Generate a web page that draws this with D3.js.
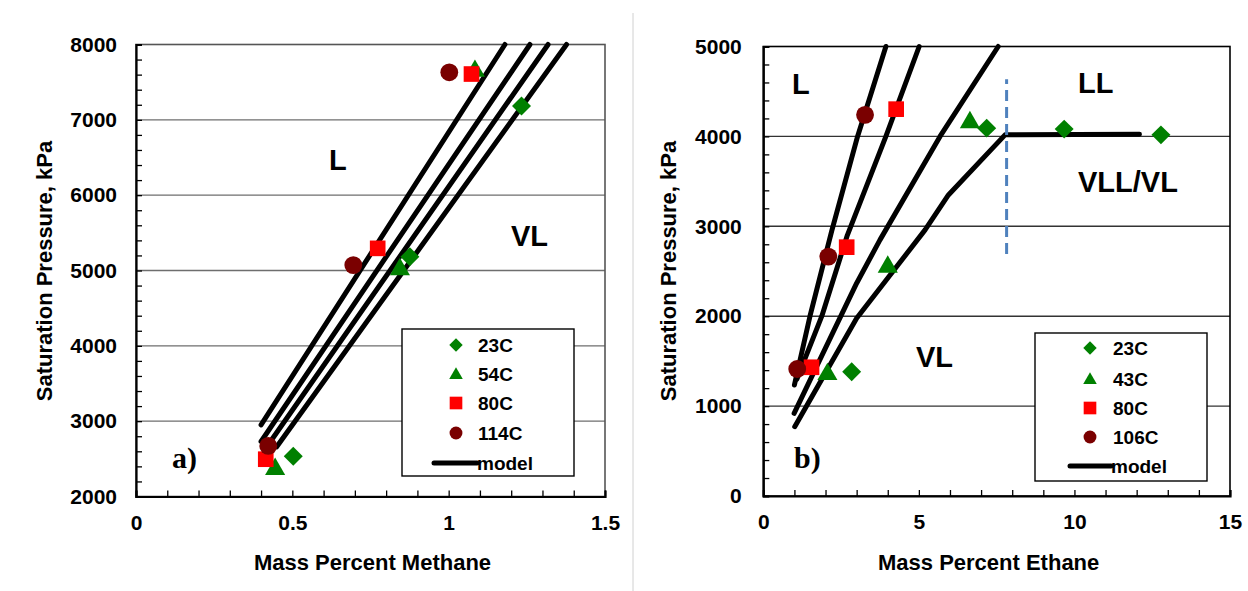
<!DOCTYPE html>
<html><head><meta charset="utf-8">
<script src="https://cdn.jsdelivr.net/npm/d3@7"></script>
<style>
body{margin:0;background:#fff;}
svg{display:block;font-family:"Liberation Sans",Arial,sans-serif;}
</style></head>
<body><svg id="chart" width="1248" height="591"></svg>
<script>
// ---------- Panel a) : methane ----------
const aXTicks = [0, 0.5, 1, 1.5];
const aYTicks = [2000, 3000, 4000, 5000, 6000, 7000, 8000];
const aSeriesNames = ["23C", "54C", "80C", "114C"];
const a23C = [[0.503, 2535], [0.876, 5182], [1.233, 7183]];
const a54C = [[0.445, 2376], [0.844, 5028], [1.084, 7661]];
const a80C = [[0.415, 2495], [0.773, 5294], [1.073, 7608]];
const a114C = [[0.423, 2672], [0.695, 5072], [1.002, 7631]];
const aModel114 = [[0.40, 2950], [1.18, 8000]];
const aModel80 = [[0.40, 2730], [1.26, 8000]];
const aModel54 = [[0.42, 2670], [1.318, 8000]];
const aModel23 = [[0.45, 2660], [1.377, 8000]];

// ---------- Panel b) : ethane ----------
const bXTicks = [0, 5, 10, 15];
const bYTicks = [0, 1000, 2000, 3000, 4000, 5000];
const bSeriesNames = ["23C", "43C", "80C", "106C"];
const b23C = [[2.84, 1383], [7.18, 4092], [9.67, 4081], [12.78, 4017]];
const b43C = [[2.06, 1365], [4.0, 2560], [6.64, 4166]];
const b80C = [[1.55, 1432], [2.68, 2768], [4.27, 4303]];
const b106C = [[1.09, 1413], [2.09, 2663], [3.27, 4240]];
const bModel106 = [[1.0, 1235], [1.5, 2000], [2.2, 2950], [3.03, 4000], [3.94, 5000]];
const bModel80 = [[1.08, 1300], [1.88, 2000], [2.7, 2900], [3.94, 4000], [5.01, 5000]];
const bModel43 = [[0.99, 920], [3.0, 2367], [3.75, 2849], [5.68, 4000], [7.55, 5000]];
const bModel23 = [[1.01, 771], [3.0, 1977], [5.2, 2960], [5.95, 3349], [7.77, 4017], [12.09, 4025]];
const bBoundary = [[7.82, 2693], [7.82, 4637]];

const colors = {"23C": "#008000", "54C": "#008000", "43C": "#008000", "80C": "#ff0000", "114C": "#7a0000", "106C": "#7a0000"};
const shapes = {"23C": "diamond", "54C": "triangle", "43C": "triangle", "80C": "square", "114C": "circle", "106C": "circle"};

const svg = d3.select("#chart");

// divider
svg.append("line").attr("x1", 633).attr("x2", 633).attr("y1", 13).attr("y2", 591)
  .attr("stroke", "#d0d0d0").attr("stroke-width", 1);

function symbolPath(shape, big) {
  if (shape === "circle") return d3.symbol(d3.symbolCircle, big ? 250 : 130)();
  if (shape === "square") return d3.symbol(d3.symbolSquare, big ? 245 : 160)();
  if (shape === "triangle") return d3.symbol(d3.symbolTriangle, big ? 175 : 80)();
  return d3.symbol(d3.symbolSquare, big ? 180 : 90)();
}
function drawMarker(g, name, cx, cy, big) {
  const shape = shapes[name];
  let tr = `translate(${cx},${cy})`;
  if (shape === "diamond") tr += " rotate(45)";
  if (shape === "triangle") tr += " translate(0,1)";
  g.append("path").attr("d", symbolPath(shape, big)).attr("transform", tr).attr("fill", colors[name]);
}

function panel(cfg) {
  const g = svg.append("g");
  const x = d3.scaleLinear().domain(cfg.xDomain).range(cfg.xRange);
  const y = d3.scaleLinear().domain(cfg.yDomain).range(cfg.yRange);
  const [x0, x1] = cfg.xRange, [y0, y1] = cfg.yRange;

  // grid
  g.append("g").selectAll("line").data(cfg.yTicks.slice(1, -1)).join("line")
    .attr("x1", x0).attr("x2", x1).attr("y1", d => y(d)).attr("y2", d => y(d))
    .attr("stroke", cfg.gridColor).attr("stroke-width", 1.4);

  // frame
  g.append("rect").attr("x", x0).attr("y", y1).attr("width", x1 - x0).attr("height", y0 - y1)
    .attr("fill", "none").attr("stroke", cfg.frameColor).attr("stroke-width", 1.6);

  // minor ticks
  const yMinor = d3.axisLeft(y).tickValues(cfg.yMinor).tickSize(-6).tickFormat("");
  const gy = g.append("g").attr("transform", `translate(${x0},0)`).call(yMinor);
  const xMinor = d3.axisBottom(x).tickValues(cfg.xMinor).tickSize(-6).tickFormat("");
  const gx = g.append("g").attr("transform", `translate(0,${y0})`).call(xMinor);
  [gy, gx].forEach(a => {
    a.selectAll(".tick line").attr("stroke", "#000").attr("stroke-width", 1.3);
    a.select(".domain").attr("stroke", "#000").attr("stroke-width", 2.2);
  });

  // labels
  const yLab = d3.axisLeft(y).tickValues(cfg.yTicks).tickSize(0).tickPadding(cfg.yPad).tickFormat(d3.format("d"));
  const gyl = g.append("g").attr("transform", `translate(${x0},0)`).call(yLab);
  const xLab = d3.axisBottom(x).tickValues(cfg.xTicks).tickSize(0).tickPadding(18.5).tickFormat(d => String(d));
  const gxl = g.append("g").attr("transform", `translate(0,${y0})`).call(xLab);
  [gyl, gxl].forEach(a => {
    a.select(".domain").remove();
    a.selectAll("text").attr("font-size", 21).attr("font-weight", "bold").attr("fill", "#000")
      .attr("font-family", "Liberation Sans, Arial, sans-serif");
  });

  // axis titles
  g.append("text").attr("x", (x0 + x1) / 2 + cfg.xTitleShift).attr("y", 570).attr("text-anchor", "middle")
    .attr("font-size", 22).attr("font-weight", "bold").text(cfg.xTitle);
  g.append("text").attr("transform", `translate(${cfg.yTitleX},271) rotate(-90)`).attr("text-anchor", "middle")
    .attr("font-size", 22).attr("font-weight", "bold").text("Saturation Pressure, kPa");

  // model lines
  const line = d3.line().x(d => x(d[0])).y(d => y(d[1]));
  g.append("g").selectAll("path").data(cfg.models).join("path")
    .attr("d", line).attr("fill", "none").attr("stroke", "#000").attr("stroke-width", 5)
    .attr("stroke-linecap", "round").attr("stroke-linejoin", "round");

  if (cfg.boundary) {
    g.append("path").attr("d", line(cfg.boundary)).attr("fill", "none")
      .attr("stroke", "#4f81bd").attr("stroke-width", 3).attr("stroke-dasharray", "11,6");
  }

  // markers
  cfg.names.forEach((n, i) => {
    cfg.series[i].forEach(p => drawMarker(g, n, x(p[0]), y(p[1]), true));
  });

  // region labels
  cfg.regions.forEach(r => {
    g.append("text").attr("x", r[1]).attr("y", r[2]).attr("font-size", 29).attr("font-weight", "bold").text(r[0]);
  });
  g.append("text").attr("x", cfg.tag[1]).attr("y", cfg.tag[2]).attr("font-size", 30).attr("font-weight", "bold")
    .attr("font-family", "Liberation Serif, Times New Roman, serif").text(cfg.tag[0]);

  // legend
  const L = cfg.legend;
  const lg = g.append("g");
  lg.append("rect").attr("x", L.x).attr("y", L.y).attr("width", L.w).attr("height", L.h)
    .attr("fill", "#fff").attr("stroke", "#000").attr("stroke-width", 1.4);
  cfg.names.forEach((n, i) => {
    const ry = L.rows[i];
    drawMarker(lg, n, L.sx, ry, false);
    lg.append("text").attr("x", L.tx).attr("y", ry + 7).attr("font-size", 19).attr("font-weight", "bold").text(n);
  });
  lg.append("line").attr("x1", L.m0).attr("x2", L.m1).attr("y1", L.rows[4]).attr("y2", L.rows[4])
    .attr("stroke", "#000").attr("stroke-width", 5).attr("stroke-linecap", "round");
  lg.append("text").attr("x", L.m1).attr("y", L.rows[4] + 7).attr("font-size", 19).attr("font-weight", "bold").text("model");
}

panel({
  xDomain: [0, 1.5], xRange: [136, 605], yDomain: [2000, 8000], yRange: [496.5, 44.5],
  xTicks: aXTicks, yTicks: aYTicks,
  xMinor: d3.range(0, 16).map(i => i / 10), yMinor: d3.range(2000, 8001, 200),
  yPad: 19, gridColor: "#6e6e6e", frameColor: "#555",
  xTitle: "Mass Percent Methane", xTitleShift: 2, yTitleX: 52,
  models: [aModel114, aModel80, aModel54, aModel23],
  names: aSeriesNames, series: [a23C, a54C, a80C, a114C],
  regions: [["L", 329, 170], ["VL", 511, 246]],
  tag: ["a)", 172, 468],
  legend: {x: 402, y: 329, w: 172, h: 147, sx: 456, tx: 478, rows: [345, 374, 403, 433, 463], m0: 434, m1: 477}
});

panel({
  xDomain: [0, 15], xRange: [763.3, 1230], yDomain: [0, 5000], yRange: [496, 46.5],
  xTicks: bXTicks, yTicks: bYTicks,
  xMinor: d3.range(0, 16), yMinor: d3.range(0, 5001, 200),
  yPad: 21.5, gridColor: "#333", frameColor: "#000",
  xTitle: "Mass Percent Ethane", xTitleShift: -8, yTitleX: 676,
  models: [bModel106, bModel80, bModel43, bModel23],
  names: bSeriesNames, series: [b23C, b43C, b80C, b106C],
  boundary: bBoundary,
  regions: [["L", 792, 94], ["LL", 1078, 93], ["VLL/VL", 1078, 192], ["VL", 916, 367]],
  tag: ["b)", 794, 468],
  legend: {x: 1035, y: 333, w: 172, h: 148, sx: 1090, tx: 1113, rows: [348, 379, 408, 437, 466], m0: 1070, m1: 1111}
});
</script></body></html>
